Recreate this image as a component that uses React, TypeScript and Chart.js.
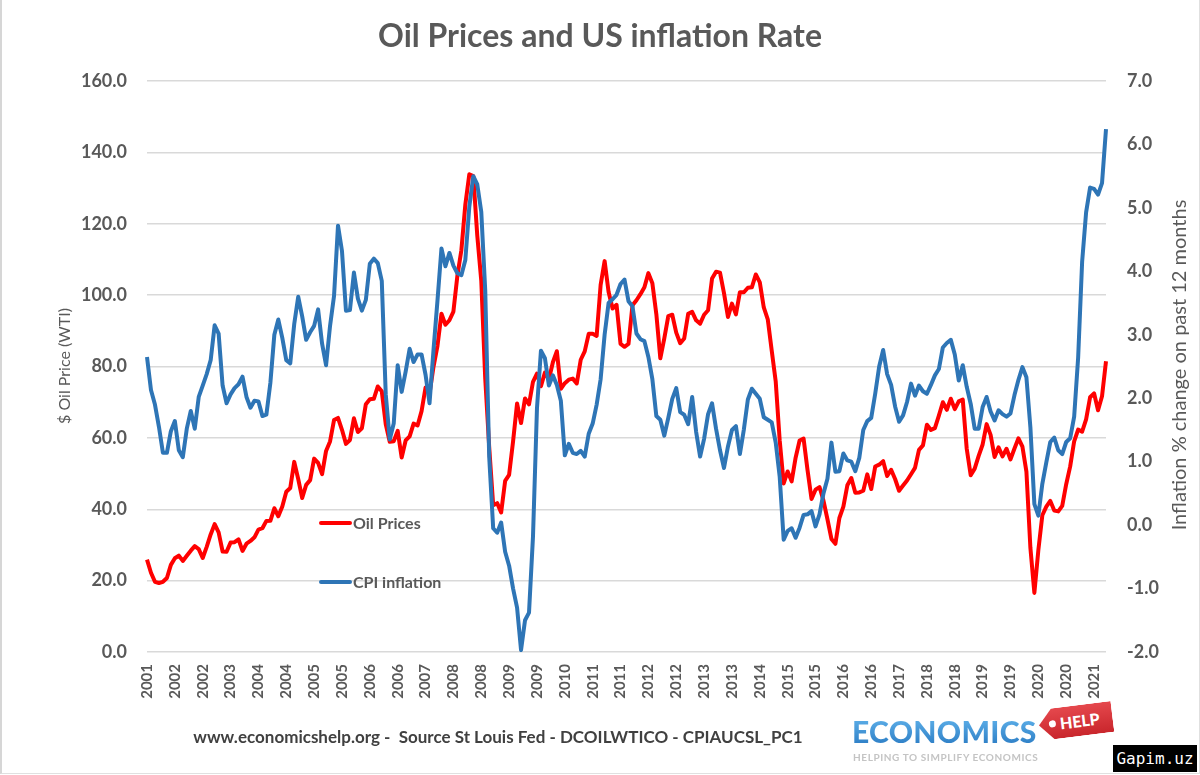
import { useEffect, useRef } from "react";
import Chart from "chart.js/auto";

// Monthly series, September 2001 to October 2021
const FIRST_YEAR = 2001;
const FIRST_MONTH = 9;
const YEAR_LABEL_STEP = 7;

// WTI crude, monthly average, $ per barrel
const oilPrices: number[] = [
  // 2001 (Sep-Dec)
  25.88, 22.21, 19.67, 19.33,
  // 2002
  19.67, 20.74, 24.42, 26.27, 27.02, 25.52, 26.97, 28.39, 29.66, 28.84, 26.35, 29.46,
  // 2003
  32.95, 35.83, 33.51, 28.17, 28.11, 30.66, 30.76, 31.57, 28.31, 30.34, 31.11, 32.13,
  // 2004
  34.31, 34.69, 36.74, 36.75, 40.28, 38.03, 40.78, 44.9, 45.94, 53.28, 48.47, 43.15,
  // 2005
  46.84, 48.15, 54.19, 52.98, 49.83, 56.35, 59.0, 64.99, 65.59, 62.26, 58.32, 59.41,
  // 2006
  65.49, 61.63, 62.69, 69.44, 70.84, 70.95, 74.41, 73.04, 63.8, 58.89, 59.08, 61.96,
  // 2007
  54.51, 59.28, 60.44, 63.98, 63.46, 67.49, 74.12, 72.36, 79.92, 85.8, 94.77, 91.69,
  // 2008
  92.97, 95.39, 105.45, 112.58, 125.4, 133.88, 133.37, 116.67, 104.11, 76.61, 57.31, 41.12,
  // 2009
  41.71, 39.09, 47.94, 49.65, 59.03, 69.64, 64.15, 71.05, 69.41, 75.72, 77.99, 74.47,
  // 2010
  78.33, 76.39, 81.2, 84.29, 73.74, 75.34, 76.32, 76.6, 75.24, 81.89, 84.25, 89.15,
  // 2011
  89.17, 88.58, 102.86, 109.53, 100.9, 96.26, 97.3, 86.33, 85.52, 86.32, 97.16, 98.56,
  // 2012
  100.27, 102.2, 106.16, 103.32, 94.66, 82.3, 87.9, 94.13, 94.51, 89.49, 86.53, 87.86,
  // 2013
  94.76, 95.31, 92.94, 92.02, 94.51, 95.77, 104.67, 106.57, 106.29, 100.54, 93.86, 97.63,
  // 2014
  94.62, 100.82, 100.8, 102.07, 102.18, 105.79, 103.59, 96.54, 93.21, 84.4, 75.79, 59.29,
  // 2015
  47.22, 50.58, 47.82, 54.45, 59.27, 59.82, 50.9, 42.87, 45.48, 46.22, 42.44, 37.19,
  // 2016
  31.68, 30.32, 37.55, 40.75, 46.71, 48.76, 44.65, 44.72, 45.18, 49.78, 45.66, 51.97,
  // 2017
  52.5, 53.47, 49.33, 51.06, 48.48, 45.18, 46.63, 48.04, 49.82, 51.58, 56.64, 57.88,
  // 2018
  63.7, 62.23, 62.73, 66.25, 69.98, 67.87, 70.98, 68.06, 70.23, 70.75, 56.96, 49.52,
  // 2019
  51.38, 54.95, 58.15, 63.86, 60.83, 54.66, 57.35, 54.81, 56.95, 53.96, 57.03, 59.88,
  // 2020
  57.52, 50.54, 29.21, 16.55, 28.56, 38.31, 40.71, 42.34, 39.63, 39.4, 40.94, 47.02,
  // 2021 (Jan-Oct)
  52.0, 59.04, 62.33, 61.72, 65.17, 71.38, 72.49, 67.73, 71.65, 81.48,
];

// CPI, % change on the same month a year earlier
const cpiInflation: number[] = [
  // 2001 (Sep-Dec)
  2.65, 2.13, 1.9, 1.55,
  // 2002
  1.14, 1.14, 1.48, 1.64, 1.18, 1.07, 1.52, 1.8, 1.52, 2.02, 2.2, 2.38,
  // 2003
  2.6, 3.15, 3.02, 2.2, 1.92, 2.06, 2.16, 2.22, 2.34, 2.02, 1.85, 1.96,
  // 2004
  1.95, 1.72, 1.74, 2.24, 3.0, 3.24, 2.95, 2.6, 2.55, 3.17, 3.6, 3.29,
  // 2005
  2.92, 3.04, 3.14, 3.4, 2.86, 2.52, 3.14, 3.61, 4.72, 4.32, 3.38, 3.39,
  // 2006
  3.98, 3.57, 3.38, 3.55, 4.12, 4.2, 4.13, 3.85, 2.06, 1.35, 1.6, 2.52,
  // 2007
  2.1, 2.42, 2.78, 2.57, 2.69, 2.69, 2.37, 1.92, 2.76, 3.54, 4.36, 4.08,
  // 2008
  4.29, 4.09, 3.97, 3.94, 4.18, 5.02, 5.5, 5.37, 4.94, 3.7, 1.07, -0.05,
  // 2009
  -0.12, 0.04, -0.42, -0.64, -1.0, -1.3, -1.97, -1.5, -1.38, -0.18, 1.84, 2.75,
  // 2010
  2.63, 2.2, 2.36, 2.21, 1.96, 1.1, 1.28, 1.14, 1.12, 1.17, 1.08, 1.44,
  // 2011
  1.6, 1.9, 2.3, 3.0, 3.5, 3.56, 3.63, 3.8, 3.87, 3.53, 3.45, 3.02,
  // 2012
  2.93, 2.9, 2.65, 2.3, 1.72, 1.66, 1.41, 1.69, 1.99, 2.16, 1.78, 1.74,
  // 2013
  1.59, 2.02, 1.47, 1.08, 1.36, 1.75, 1.92, 1.52, 1.18, 0.9, 1.24, 1.5,
  // 2014
  1.56, 1.12, 1.51, 1.98, 2.15, 2.07, 1.99, 1.7, 1.66, 1.62, 1.3, 0.76,
  // 2015
  -0.23, -0.09, -0.05, -0.2, -0.04, 0.16, 0.17, 0.22, -0.02, 0.17, 0.5, 0.73,
  // 2016
  1.3, 0.84, 0.85, 1.13, 1.02, 1.0, 0.85, 1.06, 1.5, 1.64, 1.69, 2.07,
  // 2017
  2.5, 2.76, 2.38, 2.21, 1.87, 1.63, 1.73, 1.94, 2.23, 2.04, 2.2, 2.11,
  // 2018
  2.07, 2.21, 2.36, 2.46, 2.8, 2.87, 2.92, 2.69, 2.28, 2.52, 2.18, 1.91,
  // 2019
  1.52, 1.52, 1.86, 2.02, 1.79, 1.65, 1.81, 1.75, 1.71, 1.76, 2.05, 2.29,
  // 2020
  2.49, 2.33, 1.54, 0.33, 0.15, 0.65, 0.99, 1.31, 1.38, 1.18, 1.12, 1.31,
  // 2021 (Jan-Oct)
  1.37, 1.71, 2.64, 4.15, 4.93, 5.32, 5.3, 5.21, 5.39, 6.24,
];

const monthLabels: string[] = oilPrices.map((_, i) => {
  const m = FIRST_MONTH - 1 + i;
  return `${FIRST_YEAR + Math.floor(m / 12)}-${String((m % 12) + 1).padStart(2, "0")}`;
});

const OIL_MIN = 0;
const OIL_MAX = 160;
const OIL_STEP = 20;
const CPI_MIN = -2;
const CPI_MAX = 7;
const CPI_STEP = 1;

const TITLE = "Oil Prices and US inflation Rate";
const OIL_AXIS_TITLE = "$ Oil Price (WTI)";
const CPI_AXIS_TITLE = "Inflation % change on past 12 months";
const SOURCE_NOTE = "www.economicshelp.org -  Source St Louis Fed - DCOILWTICO - CPIAUCSL_PC1";

const TEXT_GREY = "#595959";
const FONT = "Lato, 'Open Sans', 'DejaVu Sans', sans-serif";
const OIL_RED = "#ff0000";
const CPI_BLUE = "#2e75b6";

// Legend entries drawn inside the plot, and both rotated axis titles
const annotationsPlugin = {
  id: "annotations",
  afterDraw(chart: any) {
    const { ctx } = chart;
    ctx.save();

    const entries = [
      { label: chart.data.datasets[0].label, color: chart.data.datasets[0].borderColor, y: 523 },
      { label: chart.data.datasets[1].label, color: chart.data.datasets[1].borderColor, y: 582 },
    ];
    ctx.font = `bold 16px ${FONT}`;
    ctx.textBaseline = "middle";
    ctx.textAlign = "left";
    for (const e of entries) {
      ctx.strokeStyle = e.color;
      ctx.lineWidth = 4;
      ctx.lineCap = "round";
      ctx.beginPath();
      ctx.moveTo(321, e.y);
      ctx.lineTo(350, e.y);
      ctx.stroke();
      ctx.fillStyle = TEXT_GREY;
      ctx.fillText(e.label, 353, e.y + 1);
    }

    const drawVertical = (text: string, x: number, y: number, font: string) => {
      ctx.save();
      ctx.translate(x, y);
      ctx.rotate(-Math.PI / 2);
      ctx.font = font;
      ctx.fillStyle = TEXT_GREY;
      ctx.textAlign = "center";
      ctx.textBaseline = "middle";
      ctx.fillText(text, 0, 0);
      ctx.restore();
    };
    drawVertical(OIL_AXIS_TITLE, 65, 366, `16px ${FONT}`);
    drawVertical(CPI_AXIS_TITLE, 1180, 365, `20px ${FONT}`);

    ctx.restore();
  },
};

export default function App() {
  const canvasRef = useRef<HTMLCanvasElement | null>(null);

  useEffect(() => {
    document.body.style.margin = "0";
    const canvas = canvasRef.current;
    if (!canvas) return;

    const chart = new Chart(canvas, {
      type: "line",
      data: {
        labels: monthLabels,
        datasets: [
          {
            label: "Oil Prices",
            data: oilPrices,
            yAxisID: "yOil",
            borderColor: OIL_RED,
            backgroundColor: OIL_RED,
            borderWidth: 4,
            pointRadius: 0,
            tension: 0,
            borderJoinStyle: "round",
            order: 2,
          },
          {
            label: "CPI inflation",
            data: cpiInflation,
            yAxisID: "yCpi",
            borderColor: CPI_BLUE,
            backgroundColor: CPI_BLUE,
            borderWidth: 4,
            pointRadius: 0,
            tension: 0,
            borderJoinStyle: "round",
            order: 1,
          },
        ],
      },
      options: {
        animation: false,
        responsive: true,
        maintainAspectRatio: false,
        layout: { padding: 0 },
        plugins: {
          legend: { display: false },
          tooltip: { enabled: false },
          title: {
            display: true,
            text: TITLE,
            color: TEXT_GREY,
            font: { family: FONT, size: 32, weight: "bold", lineHeight: 1.2 },
            padding: { top: 17, bottom: 25.6 },
          },
        },
        scales: {
          x: {
            type: "category",
            offset: false,
            grid: { display: false, drawTicks: false },
            border: { display: false },
            afterFit: (s: any) => {
              s.height = 123;
            },
            ticks: {
              autoSkip: false,
              minRotation: 90,
              maxRotation: 90,
              padding: 12,
              color: TEXT_GREY,
              font: { family: FONT, size: 15, weight: "bold" },
              callback: (_v: any, i: number) =>
                i % YEAR_LABEL_STEP === 0 ? monthLabels[i].slice(0, 4) : "",
            },
          },
          yOil: {
            type: "linear",
            position: "left",
            min: OIL_MIN,
            max: OIL_MAX,
            grid: { color: "#d9d9d9", lineWidth: 1.5, drawTicks: false },
            border: { display: false },
            afterFit: (s: any) => {
              s.width = 147;
            },
            ticks: {
              stepSize: OIL_STEP,
              padding: 20,
              color: TEXT_GREY,
              font: { family: FONT, size: 18, weight: "bold" },
              callback: (v: any) => Number(v).toFixed(1),
            },
          },
          yCpi: {
            type: "linear",
            position: "right",
            min: CPI_MIN,
            max: CPI_MAX,
            grid: { display: false, drawTicks: false },
            border: { display: false },
            afterFit: (s: any) => {
              s.width = 94;
            },
            ticks: {
              stepSize: CPI_STEP,
              padding: 21,
              color: TEXT_GREY,
              font: { family: FONT, size: 18, weight: "bold" },
              callback: (v: any) => Number(v).toFixed(1),
            },
          },
        },
      },
      plugins: [annotationsPlugin],
    });

    return () => chart.destroy();
  }, []);

  return (
    <div
      style={{
        position: "relative",
        width: 1200,
        height: 775,
        background: "#ffffff",
        overflow: "hidden",
        fontFamily: FONT,
      }}
    >
      <canvas ref={canvasRef} />
      <div
        style={{
          position: "absolute",
          left: 0,
          top: 0,
          width: 1200,
          height: 774,
          boxSizing: "border-box",
          borderLeft: "2px solid #d6d6d6",
          borderRight: "1px solid #e0e0e0",
          borderBottom: "1px solid #e0e0e0",
          pointerEvents: "none",
        }}
      />
      <div
        style={{
          position: "absolute",
          left: 0,
          width: 996,
          top: 726,
          textAlign: "center",
          fontWeight: "bold",
          fontSize: 17,
          color: "#404040",
          whiteSpace: "pre",
        }}
      >
        {SOURCE_NOTE}
      </div>
      <div
        style={{
          position: "absolute",
          left: 852,
          top: 715,
          fontSize: 30,
          fontWeight: 900,
          letterSpacing: 0.3,
          lineHeight: "32px",
          background: "linear-gradient(#62b4ec, #2a7bc3)",
          WebkitBackgroundClip: "text",
          backgroundClip: "text",
          color: "transparent",
        }}
      >
        ECONOMICS
      </div>
      <div
        style={{
          position: "absolute",
          left: 1039,
          top: 710,
          width: 74,
          height: 31,
          transform: "rotate(-7deg)",
          transformOrigin: "left center",
          background: "linear-gradient(#e5484d, #c9262c)",
          clipPath: "polygon(0 50%, 14px 0, 100% 0, 100% 100%, 14px 100%)",
          display: "flex",
          alignItems: "center",
        }}
      >
        <span
          style={{
            width: 7,
            height: 7,
            borderRadius: "50%",
            background: "#ffffff",
            marginLeft: 10,
            marginRight: 4,
          }}
        />
        <span style={{ color: "#ffffff", fontWeight: 900, fontSize: 16 }}>HELP</span>
      </div>
      <div
        style={{
          position: "absolute",
          left: 853,
          top: 751,
          fontSize: 10,
          fontWeight: "bold",
          letterSpacing: 0.6,
          color: "#c4c4c4",
          whiteSpace: "nowrap",
        }}
      >
        HELPING TO SIMPLIFY ECONOMICS
      </div>
      <div
        style={{
          position: "absolute",
          left: 1113,
          top: 745,
          width: 84,
          height: 27,
          background: "#000000",
          color: "#ffffff",
          fontFamily: "'DejaVu Sans Mono', monospace",
          fontSize: 16,
          lineHeight: "27px",
          textAlign: "center",
        }}
      >
        Gapim.uz
      </div>
    </div>
  );
}
